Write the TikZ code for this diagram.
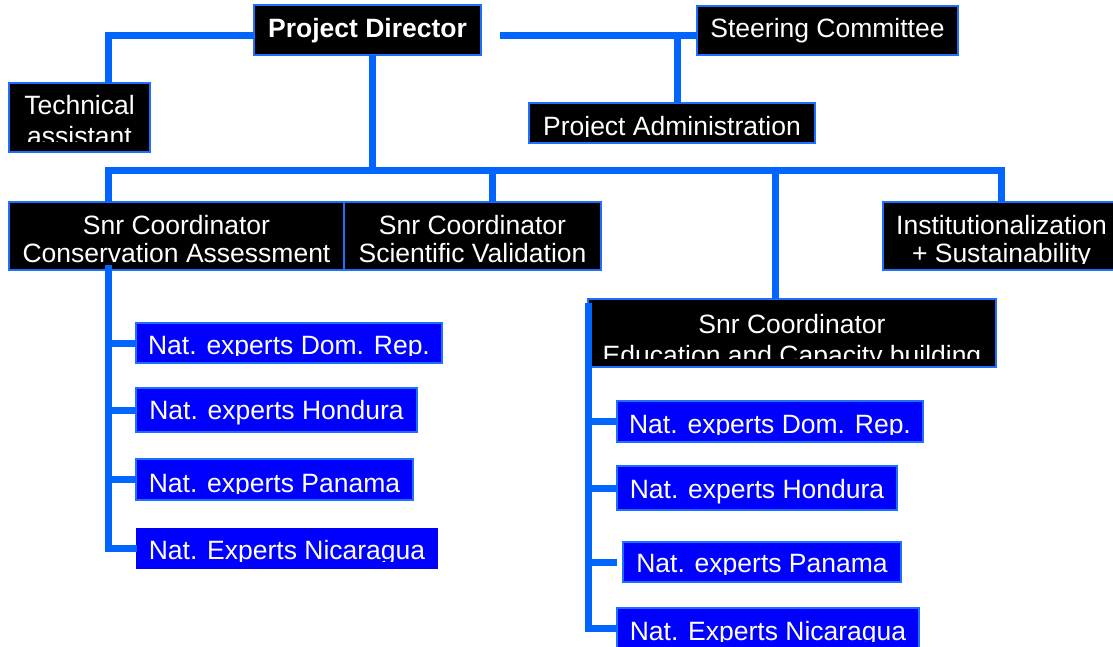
\documentclass[tikz,border=0pt]{standalone}
\usepackage{fontspec}
\setmainfont{Liberation Sans}
\definecolor{linkblue}{RGB}{0,102,255}
\definecolor{edgeblue}{RGB}{30,110,255}
\definecolor{expblue}{RGB}{0,0,255}
\tikzset{
  unit/.style={draw=edgeblue,line width=2pt,fill=black,inner sep=0,outer sep=0},
  expert/.style={unit,fill=expblue},
  lbl/.style={anchor=base,text=white,inner sep=0,font=\fontsize{26.5}{30}\selectfont},
  link/.style={draw=linkblue,line width=7pt}
}
% text cut off a few points above the box bottom
\newcommand{\boxlabel}[4]{%
  \begin{scope}
    \clip (#1.north west) rectangle ([yshift=#2pt]#1.south east);
    \node[lbl] at (#3) {#4};
  \end{scope}}
\begin{document}
\begin{tikzpicture}[x=1pt,y=-1pt]
\useasboundingbox (0,0) rectangle (1113,647);
\clip (0,0) rectangle (1113,647);

% top level
\node[unit,minimum width=227pt,minimum height=50pt] (pd) at (367.5,30) {};
\node[unit,minimum width=141pt,minimum height=69pt] (tech) at (79.5,117.5) {};
\node[unit,minimum width=261pt,minimum height=49pt] (steer) at (827.5,30.5) {};
\node[unit,minimum width=286pt,minimum height=40pt] (admin) at (672,123) {};

% coordinators
\node[unit,minimum width=335pt,minimum height=68pt] (cons) at (176.5,236) {};
\node[unit,minimum width=257pt,minimum height=68pt] (sci) at (472.5,236) {};
\node[unit,minimum width=237pt,minimum height=68pt] (inst) at (1001.5,236) {};
\node[unit,minimum width=408pt,minimum height=68pt] (edu) at (792,333) {};

% national experts
\node[expert,minimum width=306pt,minimum height=40pt] (dr1) at (289,343) {};
\node[expert,minimum width=281pt,minimum height=44pt] (hn1) at (276.5,410) {};
\node[expert,minimum width=277pt,minimum height=41pt] (pa1) at (274.5,479.5) {};
\node[expert,draw=expblue,minimum width=300pt,minimum height=39pt] (ni1) at (287,548.5) {};
\node[expert,minimum width=306pt,minimum height=41pt] (dr2) at (770,421.5) {};
\node[expert,minimum width=280pt,minimum height=44pt] (hn2) at (757,488) {};
\node[expert,minimum width=278pt,minimum height=40pt] (pa2) at (762,562) {};
\node[expert,minimum width=302pt,minimum height=40pt] (ni2) at (768,628) {};

\boxlabel{pd}{0}{367.5,38}{\bfseries Project Director}
\boxlabel{steer}{0}{827.5,38}{Steering Committee}
\boxlabel{tech}{10}{79.5,115}{Technical}
\boxlabel{tech}{10}{79.5,146}{assistant}
\boxlabel{admin}{6}{672,136}{Project Administration}
\boxlabel{cons}{0}{176.5,234}{Snr Coordinator}
\boxlabel{cons}{0}{176.5,262}{Conservation Assessment}
\boxlabel{sci}{0}{472.5,234}{Snr Coordinator}
\boxlabel{sci}{0}{472.5,262}{Scientific Validation}
\boxlabel{inst}{7}{1001.5,234}{Institutionalization}
\boxlabel{inst}{7}{1001.5,262}{+ Sustainability}
\boxlabel{edu}{9}{792,333}{Snr Coordinator}
\boxlabel{edu}{9}{792,364}{Education and Capacity building}

\boxlabel{dr1}{8}{289,354}{Nat. experts Dom. Rep.}
\boxlabel{hn1}{0}{276.5,419}{Nat. experts Hondura}
\boxlabel{pa1}{7}{274.5,492}{Nat. experts Panama}
\boxlabel{ni1}{7}{287,559}{Nat. Experts Nicaragua}
\boxlabel{dr2}{8}{770,433}{Nat. experts Dom. Rep.}
\boxlabel{hn2}{0}{757,498}{Nat. experts Hondura}
\boxlabel{pa2}{8}{762,572.5}{Nat. experts Panama}
\boxlabel{ni2}{7}{768,640}{Nat. Experts Nicaragua}

% connectors
\coordinate (tl) at (108,35.5);
\coordinate (pr) at (500,35.5);
\coordinate (pa) at (677,35.5);
\coordinate (bl) at (108,171);
\coordinate (bm) at (372,171);
\coordinate (bs) at (492,171);
\coordinate (be) at (775,171);
\coordinate (br) at (1001,171);
\coordinate (le) at (108,265);
\coordinate (re) at (588,303);

\draw[link] (pd.west |- tl) -- (tl) -- (tl |- tech.north);
\draw[link] (pr) -- (pr -| steer.west);
\draw[link] (pa) -- (pa |- admin.north);
\draw[link] (bm |- pd.south) -- (bm);
\draw[link] (bl |- cons.north) -- (bl) -- (br) -- (br |- inst.north);
\draw[link] (bs) -- (bs |- sci.north);
\draw[link] (be) -- (be |- edu.north);

\draw[link] (le) |- (dr1.west);
\draw[link] (le) |- (hn1.west);
\draw[link] (le) |- (pa1.west);
\draw[link] (le) |- (ni1.west);
\draw[link] (re) |- (dr2.west);
\draw[link] (re) |- (hn2.west);
\draw[link] (re) |- ([xshift=-6pt]pa2.west);
\draw[link] (re) |- (ni2.west);
\end{tikzpicture}
\end{document}
